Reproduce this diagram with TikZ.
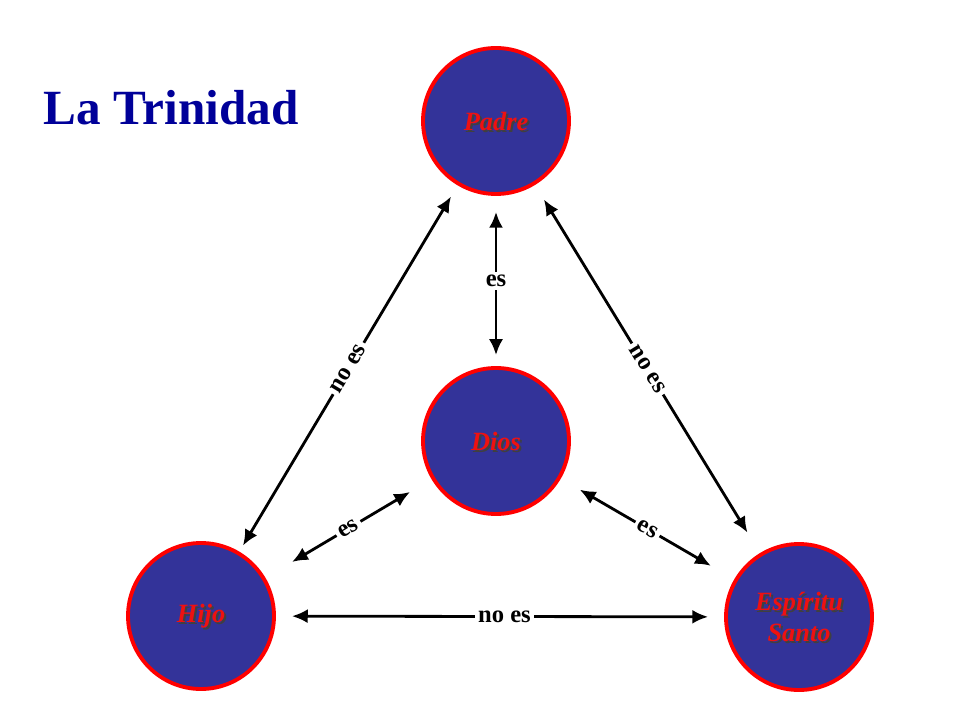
\documentclass[tikz,border=0pt]{standalone}
\usepackage{fontspec}
\setmainfont{Liberation Serif}
\usetikzlibrary{arrows.meta}
\definecolor{discblue}{HTML}{333399}
\definecolor{titleblue}{HTML}{000099}
\definecolor{namered}{HTML}{EE1111}
\newcommand{\person}[3]{%
  \node[person] (#1) at (#2) {};
  \node[personname, text=black!75] at ([shift={(0.04,-0.04)}]#1.center) {#3};
  \node[personname, text=namered] (#1-text) at (#1.center) {#3};}
\begin{document}
\begin{tikzpicture}
  \tikzset{person/.style = {circle, draw=red, line width=2.2pt, fill=discblue, minimum size=2.92cm, inner sep=0pt}}
  \tikzset{personname/.style = {align=center, inner sep=0pt, font=\fontsize{15}{18}\selectfont\bfseries\itshape}}
  \tikzset{link/.style = {{Latex[length=9pt,width=8pt]}-{Latex[length=9pt,width=8pt]}, line width=1.6pt}}
  \tikzset{rel/.style = {fill=white, inner sep=2pt, font=\fontsize{14}{16}\selectfont\bfseries}}

\useasboundingbox (0,0) rectangle (19.2,14.4);

\node[anchor=west, text=titleblue, font=\fontsize{28}{32}\selectfont\bfseries] (title) at (0.75,12.25) {La Trinidad};

\person{padre}{9.92,11.98}{Padre}
\person{dios}{9.92,5.58}{Dios}
\person{hijo}{4.02,2.08}{Hijo}
\person{santo}{15.98,2.06}{Espíritu\\Santo}

    \draw[link, shorten <=0.32cm, shorten >=0.22cm] (padre) -- node[rel]{es} (dios);
    \draw[link, shorten <=0.26cm, shorten >=0.14cm] (padre) -- node[rel, sloped, pos=0.5]{no es} (hijo);
    \draw[link, shorten <=0.34cm, shorten >=0.48cm] (padre) -- node[rel, sloped, pos=0.5]{no es} (santo);
    \draw[link, shorten <=0.32cm, shorten >=0.32cm] (hijo) -- node[rel, pos=0.51]{no es} (santo);
    \draw[link, shorten <=0.62cm, shorten >=0.5cm] (hijo) -- node[rel, sloped]{es} (dios);
    \draw[link, shorten <=0.44cm, shorten >=0.54cm] (dios) -- node[rel, sloped]{es} (santo);

\end{tikzpicture}
\end{document}
